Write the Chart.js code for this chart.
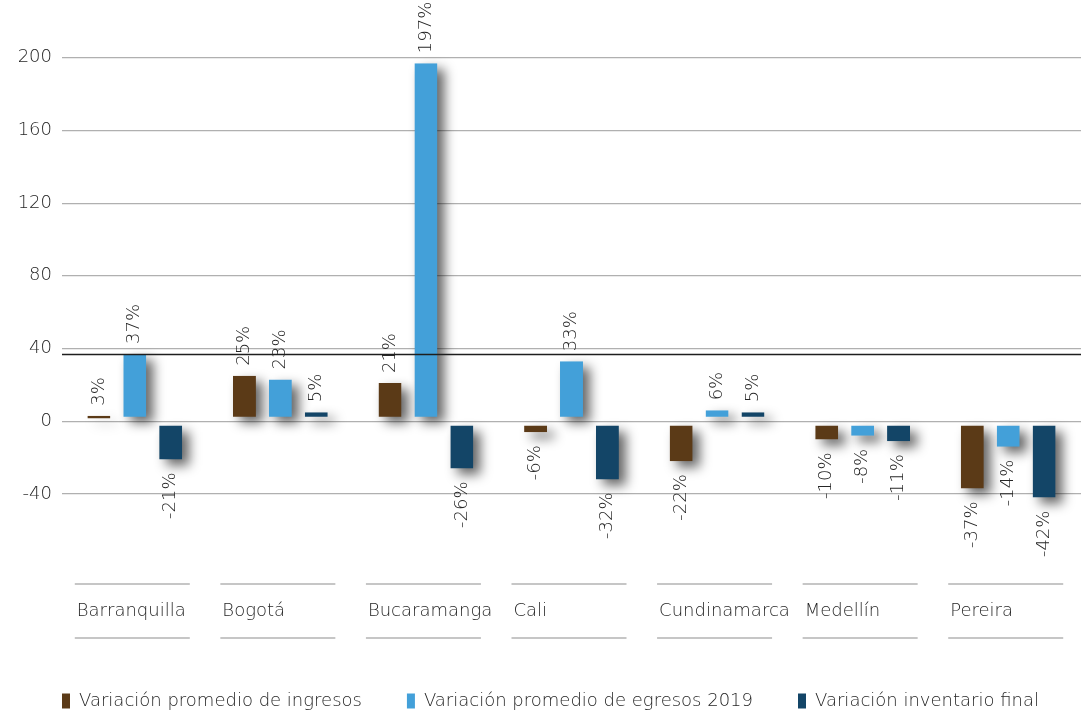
<!DOCTYPE html>
<html>
<head>
<meta charset="utf-8">
<script src="https://cdn.jsdelivr.net/npm/chart.js@4.4.1/dist/chart.umd.min.js"></script>
<style>
  html, body { margin: 0; padding: 0; background: #ffffff; }
  #wrap { width: 1081px; height: 714px; position: relative; }
</style>
</head>
<body>
<div id="wrap"><canvas id="c" width="1081" height="714"></canvas></div>
<script>
// ---- data ----
const categories = ['Barranquilla', 'Bogotá', 'Bucaramanga', 'Cali', 'Cundinamarca', 'Medellín', 'Pereira'];
const seriesNames = ['Variación promedio de ingresos', 'Variación promedio de egresos 2019', 'Variación inventario final'];
const ingresos = [3, 25, 21, -6, -22, -10, -37];
const egresos = [37, 23, 197, 33, 6, -8, -14];
const inventario = [-21, 5, -26, -32, 5, -11, -42];
const yTicks = [-40, 0, 40, 80, 120, 160, 200];
const refLineValue = [37];

const colors = ['#5b3a17', '#43a0d9', '#134567'];
const FONT = '"DejaVu Sans", sans-serif';
const WEIGHT = '300';
const TEXT = '#262626';

// shadows behind bars
const shadowPlugin = {
  id: 'barShadow',
  beforeDatasetsDraw(chart) {
    const ctx = chart.ctx;
    ctx.save();
    ctx.filter = 'blur(6px)';
    ctx.fillStyle = 'rgba(0,0,0,0.6)';
    chart.data.datasets.forEach((ds, di) => {
      chart.getDatasetMeta(di).data.forEach(bar => {
        const p = bar.getProps(['x', 'y', 'base', 'width'], true);
        let top = Math.min(p.y, p.base), bot = Math.max(p.y, p.base);
        if (p.y < p.base) bot -= 4; else top += 4;
        ctx.fillRect(p.x - p.width / 2 + 7, top + 6, p.width, Math.max(bot - top, 1));
      });
    });
    ctx.restore();
  }
};

// shift legend slightly right, as in the reference
const legendShift = {
  id: 'legendShift',
  afterLayout(chart) {
    if (chart.legend) { chart.legend.left += 10; chart.legend.right += 10; }
  }
};

// value labels (rotated), reference line, category labels with lines
const decorPlugin = {
  id: 'decor',
  afterDatasetsDraw(chart) {
    const ctx = chart.ctx;
    const area = chart.chartArea;
    const ys = chart.scales.y, xs = chart.scales.x;
    // reference line
    ctx.save();
    ctx.strokeStyle = '#1e1e1e';
    ctx.lineWidth = 1.3;
    refLineValue.forEach(v => {
      const py = Math.round(ys.getPixelForValue(v)) + 0.5;
      ctx.beginPath();
      ctx.moveTo(area.left, py);
      ctx.lineTo(area.right, py);
      ctx.stroke();
    });
    ctx.restore();

    // value labels
    ctx.save();
    ctx.font = WEIGHT + ' 18px ' + FONT;
    ctx.fillStyle = TEXT;
    ctx.textBaseline = 'middle';
    chart.data.datasets.forEach((ds, di) => {
      chart.getDatasetMeta(di).data.forEach((bar, i) => {
        const v = ds.data[i];
        const p = bar.getProps(['x', 'y'], true);
        ctx.save();
        if (v >= 0) {
          ctx.translate(p.x, p.y - 10);
          ctx.rotate(-Math.PI / 2);
          ctx.textAlign = 'left';
        } else {
          ctx.translate(p.x, p.y + 13);
          ctx.rotate(-Math.PI / 2);
          ctx.textAlign = 'right';
        }
        ctx.fillText(v + '%', 0, 0);
        ctx.restore();
      });
    });
    ctx.restore();

    // category labels
    ctx.save();
    ctx.strokeStyle = '#b3b3b3';
    ctx.lineWidth = 1.6;
    ctx.font = WEIGHT + ' 18px ' + FONT;
    ctx.fillStyle = TEXT;
    ctx.textBaseline = 'middle';
    ctx.textAlign = 'left';
    categories.forEach((c, i) => {
      const cx = xs.getPixelForValue(i);
      const x0 = cx - 60, x1 = cx + 55;
      [584, 638].forEach(yy => {
        ctx.beginPath();
        ctx.moveTo(x0, yy);
        ctx.lineTo(x1, yy);
        ctx.stroke();
      });
      ctx.fillText(c, x0 + 2, 611);
    });
    ctx.restore();
  }
};

const barCommon = {
  borderColor: 'rgba(0,0,0,0)',
  borderWidth: { top: 4, bottom: 4, left: 0, right: 0 },
  borderSkipped: 'end',
  categoryPercentage: 0.74,
  barPercentage: 0.64
};

new Chart(document.getElementById('c'), {
  type: 'bar',
  data: {
    labels: categories,
    datasets: [
      Object.assign({ label: seriesNames[0], data: ingresos, backgroundColor: colors[0] }, barCommon),
      Object.assign({ label: seriesNames[1], data: egresos, backgroundColor: colors[1] }, barCommon),
      Object.assign({ label: seriesNames[2], data: inventario, backgroundColor: colors[2] }, barCommon)
    ]
  },
  options: {
    responsive: false,
    animation: false,
    events: [],
    layout: { padding: { top: 0, right: 0, bottom: -6, left: 0 } },
    scales: {
      x: {
        display: false,
        offset: true,
        grid: { display: false }
      },
      y: {
        min: -124.2,
        max: 220.3,
        afterBuildTicks(scale) { scale.ticks = yTicks.map(v => ({ value: v })); },
        afterFit(scale) { scale.width = 62; },
        border: { display: false },
        grid: { color: '#b0b0b0', lineWidth: 1.2, drawTicks: false },
        ticks: {
          padding: 10,
          color: TEXT,
          font: { family: FONT, size: 18, weight: WEIGHT },
          callback: v => String(v)
        }
      }
    },
    plugins: {
      tooltip: { enabled: false },
      legend: {
        position: 'bottom',
        labels: {
          boxWidth: 8,
          boxHeight: 15,
          padding: 45,
          color: TEXT,
          font: { family: FONT, size: 18, weight: WEIGHT },
          generateLabels(chart) {
            return chart.data.datasets.map((ds, i) => ({
              text: ds.label,
              fillStyle: ds.backgroundColor,
              strokeStyle: ds.backgroundColor,
              lineWidth: 0,
              hidden: false,
              datasetIndex: i,
              fontColor: TEXT
            }));
          }
        }
      }
    }
  },
  plugins: [shadowPlugin, legendShift, decorPlugin]
});
</script>
</body>
</html>
